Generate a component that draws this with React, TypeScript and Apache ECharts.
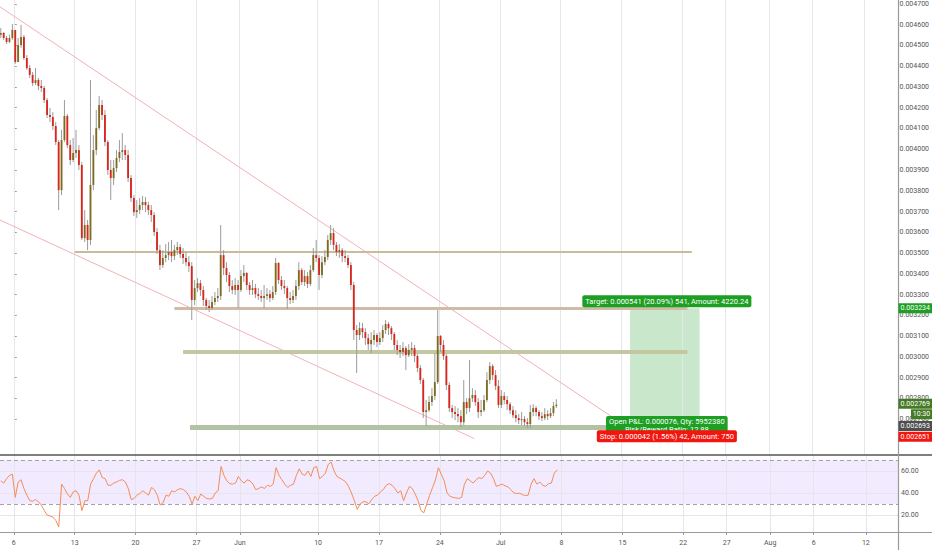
import { useEffect, useRef } from "react";
import * as echarts from "echarts";

// 8h candles, day 0 = May 6. prices are in millionths (4551 -> 0.004551)
const FIRST_DAY = -1.5;
const PER_DAY = 3;
const firstOpen = 4551;

const closes = [
  4560, 4536, 4517, 4536, 4575, 4420, 4502, 4541, 4440, 4391,
  4358, 4319, 4334, 4305, 4295, 4237, 4165, 4155, 4112, 4035,
  3803, 4044, 4160, 4020, 3948, 3982, 3996, 3924, 3572, 3635,
  3563, 3828, 3996, 4102, 4213, 4165, 4035, 3900, 3861, 3909,
  3958, 3987, 3996, 3972, 3861, 3765, 3697, 3707, 3731, 3746,
  3731, 3707, 3683, 3601, 3514, 3442, 3476, 3490, 3505, 3485,
  3514, 3529, 3495, 3476, 3456, 3437, 3274, 3331, 3355, 3322,
  3274, 3245, 3235, 3264, 3283, 3293, 3490, 3428, 3394, 3341,
  3322, 3346, 3322, 3389, 3404, 3346, 3322, 3331, 3302, 3293,
  3283, 3293, 3302, 3283, 3312, 3452, 3370, 3341, 3331, 3283,
  3274, 3293, 3341, 3418, 3360, 3389, 3351, 3418, 3490, 3476,
  3394, 3456, 3481, 3563, 3596, 3539, 3505, 3514, 3485, 3476,
  3442, 3346, 3129, 3105, 3138, 3119, 3090, 3061, 3081, 3105,
  3071, 3090, 3129, 3158, 3138, 3110, 3057, 3033, 3023, 3042,
  3008, 3033, 3042, 3004, 2946, 2888, 2734, 2743, 2782, 2811,
  2878, 3100, 3057, 3004, 2864, 2753, 2734, 2724, 2714, 2685,
  2782, 2753, 2801, 2816, 2782, 2734, 2743, 2792, 2888, 2955,
  2912, 2859, 2768, 2811, 2792, 2772, 2743, 2719, 2705, 2695,
  2700, 2685, 2676, 2734, 2753, 2734, 2714, 2705, 2724, 2714,
  2729, 2763, 2769,
];

const highs = [
  4584, 4565, 4546, 4551, 4603, 4575, 4536, 4599, 4551, 4454,
  4406, 4372, 4391, 4343, 4334, 4305, 4247, 4199, 4179, 4131,
  4044, 4093, 4237, 4170, 4044, 4054, 4093, 4020, 3938, 3707,
  3659, 4334, 4068, 4189, 4257, 4237, 4189, 4044, 3948, 3948,
  3996, 4044, 4078, 4020, 3996, 3876, 3779, 3755, 3765, 3775,
  3770, 3746, 3731, 3697, 3620, 3539, 3514, 3543, 3553, 3563,
  3539, 3553, 3543, 3524, 3505, 3485, 3456, 3370, 3379, 3370,
  3341, 3283, 3274, 3293, 3312, 3331, 3635, 3514, 3456, 3408,
  3370, 3379, 3370, 3418, 3442, 3408, 3360, 3370, 3351, 3331,
  3322, 3346, 3331, 3322, 3341, 3476, 3456, 3389, 3370, 3341,
  3312, 3322, 3370, 3456, 3428, 3418, 3408, 3442, 3524, 3563,
  3490, 3485, 3514, 3587, 3635, 3620, 3553, 3543, 3524, 3514,
  3490, 3456, 3360, 3153, 3167, 3163, 3138, 3110, 3119, 3129,
  3114, 3119, 3153, 3177, 3167, 3148, 3119, 3081, 3057, 3071,
  3052, 3061, 3071, 3057, 3013, 2960, 2898, 2792, 2811, 2849,
  3018, 3225, 3105, 3081, 3013, 2878, 2768, 2763, 2753, 2743,
  2888, 2801, 2984, 2849, 2840, 2801, 2792, 2816, 2926, 2975,
  2965, 2936, 2888, 2840, 2830, 2811, 2782, 2763, 2743, 2724,
  2734, 2714, 2705, 2768, 2772, 2763, 2743, 2734, 2753, 2743,
  2753, 2782, 2796,
];

const lows = [
  4536, 4527, 4507, 4512, 4527, 4411, 4420, 4488, 4430, 4382,
  4343, 4305, 4309, 4285, 4276, 4223, 4150, 4131, 4093, 4020,
  3707, 3779, 4035, 4006, 3924, 3938, 3958, 3900, 3563, 3553,
  3514, 3539, 3803, 3972, 4093, 4141, 4015, 3876, 3755, 3828,
  3890, 3938, 3948, 3948, 3842, 3746, 3678, 3669, 3688, 3707,
  3697, 3683, 3649, 3582, 3495, 3418, 3428, 3456, 3466, 3456,
  3466, 3490, 3476, 3447, 3437, 3408, 3177, 3249, 3312, 3293,
  3245, 3225, 3216, 3225, 3249, 3264, 3274, 3394, 3360, 3312,
  3302, 3298, 3235, 3312, 3360, 3322, 3298, 3298, 3283, 3274,
  3264, 3235, 3274, 3264, 3274, 3298, 3351, 3322, 3302, 3230,
  3254, 3259, 3274, 3322, 3346, 3341, 3331, 3341, 3408, 3456,
  3322, 3379, 3442, 3466, 3539, 3514, 3485, 3476, 3456, 3456,
  3428, 3322, 3081, 2922, 3081, 3090, 3057, 3033, 3018, 3057,
  3047, 3057, 3071, 3110, 3105, 3081, 3033, 3008, 2994, 3004,
  2936, 2999, 3004, 2975, 2926, 2869, 2705, 2666, 2734, 2763,
  2792, 2869, 3023, 2984, 2840, 2734, 2705, 2695, 2685, 2661,
  2671, 2724, 2734, 2782, 2763, 2705, 2714, 2734, 2782, 2869,
  2888, 2840, 2753, 2753, 2772, 2743, 2724, 2705, 2685, 2676,
  2671, 2666, 2657, 2657, 2714, 2714, 2695, 2690, 2695, 2695,
  2705, 2714, 2753,
];

const rsi = [
  51, 49, 53, 56, 57, 36, 50, 52, 44, 38,
  33, 32.5, 34, 32, 29, 24, 20, 19, 18, 15,
  9, 48, 44, 39, 36, 41, 42, 38, 24, 33,
  33, 48, 53, 58, 61, 54, 53, 47, 47, 49,
  50, 51.5, 52, 50, 44, 34, 35, 38, 39.5, 42,
  40, 38, 45, 43, 38, 29, 31, 38, 37, 42,
  41, 43, 44, 43, 41, 37, 30, 37, 33, 39,
  37, 35, 34.5, 35, 40, 42, 64, 56, 51, 48.5,
  48, 49, 55, 51, 49, 52, 51, 48, 43, 44,
  45.5, 44, 47, 46, 48, 63, 56, 52, 48, 45,
  47, 48, 56, 62, 57, 56, 60, 55, 63, 64,
  53, 55, 58, 66, 68, 60, 55, 53.5, 52, 50,
  46, 40, 33, 25, 30, 32, 32, 30, 34, 37,
  38, 41, 43, 47, 48.5, 47, 44, 40, 42, 33,
  40, 46, 44, 39, 33, 24, 22, 30, 38, 45,
  52, 63, 57, 51, 40, 37, 36, 35.5, 35, 36,
  48, 53, 51, 49, 52, 54, 53, 56, 60, 58,
  53, 46, 47, 48, 46.5, 45.5, 43, 40, 39.5, 39.7,
  38.5, 37.5, 38, 48, 53, 48, 50, 47, 46, 48.5,
  49, 58, 61,
];

const xTickDays = [0, 7, 14, 21, 26, 35, 42, 49, 56, 63, 70, 77, 82, 87, 92, 98];
const xTickLabels = ["6", "13", "20", "27", "Jun", "10", "17", "24", "Jul", "8", "15", "22", "27", "Aug", "6", "12"];
const priceTicks = [
  0.0027, 0.0028, 0.0029, 0.003, 0.0031, 0.0032, 0.0033, 0.0034, 0.0035, 0.0036, 0.0037,
  0.0038, 0.0039, 0.004, 0.0041, 0.0042, 0.0043, 0.0044, 0.0045, 0.0046, 0.0047,
];
const rsiTicks = [20, 40, 60];

// drawn levels: price, first day, last day
const levelPrices = [0.003507, 0.003236, 0.003024, 0.00266];
const levelStart = [7.0, 18.5, 19.5, 20.3];
const levelEnd = [78.1, 77.6, 77.6, 71];

// channel lines [day, price]
const channelTop = [[-1.59, 0.004686], [70, 0.002680]];
const channelBottom = [[-1.59, 0.003659], [53.06, 0.002606]];

// long position
const entryPrice = 0.002693;
const targetPrice = 0.003234;
const stopPrice = 0.002651;
const lastPrice = 0.002769;
const posStart = 71;
const posEnd = 79;

const FONT = "Roboto, 'DejaVu Sans', sans-serif";
const UP = "#7d6c20";
const DOWN = "#d8261d";
const GRID = "#e4e6eb";
const levelColors = ["#cbbb9b", "#d0bca6", "#c4c8a2", "#b2c3a4"];
const levelWidths = [2, 3, 4, 5];

export default function App() {
  const ref = useRef<HTMLDivElement>(null);

  useEffect(() => {
    if (!ref.current) return;
    const chart = echarts.init(ref.current, undefined, { renderer: "svg" });

    const candles = closes.map((c, i) => {
      const o = i === 0 ? firstOpen : closes[i - 1];
      const h = Math.max(highs[i], o, c);
      const l = Math.min(lows[i], o, c);
      return [FIRST_DAY + i / PER_DAY, o / 1e6, c / 1e6, l / 1e6, h / 1e6];
    });
    const rsiData = rsi.map((v, i) => [FIRST_DAY + i / PER_DAY, v]);

    const lineItem = (a: number[], b: number[], color: string, width: number) => [
      { coord: a, lineStyle: { color, width, type: "solid" } },
      { coord: b, lineStyle: { color, width, type: "solid" } },
    ];

    chart.setOption({
      animation: false,
      backgroundColor: "#ffffff",
      textStyle: { fontFamily: FONT },
      grid: [
        { left: 0, right: 34, top: 0, height: 455 },
        { left: 0, right: 34, top: 455, height: 77 },
      ],
      xAxis: [
        {
          type: "value", gridIndex: 0, min: -1.59, max: 101.7,
          axisLabel: { show: false }, axisLine: { show: false }, axisTick: { show: false }, splitLine: { show: false },
        },
        {
          type: "value", gridIndex: 1, min: -1.59, max: 101.7,
          axisLine: { show: false },
          axisTick: { show: true, customValues: xTickDays, length: 3, lineStyle: { color: "#999" } },
          axisLabel: {
            customValues: xTickDays, fontSize: 7, color: "#555", margin: 7, fontFamily: FONT,
            formatter: (v: number) => xTickLabels[xTickDays.indexOf(v)] ?? "",
          },
          splitLine: { show: false },
        },
      ],
      yAxis: [
        {
          type: "value", gridIndex: 0, position: "right", min: 0.002527, max: 0.004719,
          axisLine: { show: false },
          axisTick: { show: true, customValues: priceTicks, length: 3, lineStyle: { color: "#999" } },
          axisLabel: {
            customValues: priceTicks, fontSize: 7, color: "#555", margin: 3, fontFamily: FONT,
            formatter: (v: number) => v.toFixed(6),
          },
          splitLine: { show: false },
        },
        {
          type: "value", gridIndex: 1, position: "right", min: 4.5, max: 74.5,
          axisLine: { show: false },
          axisTick: { show: true, customValues: rsiTicks, length: 3, lineStyle: { color: "#999" } },
          axisLabel: {
            customValues: rsiTicks, fontSize: 7, color: "#555", margin: 3, fontFamily: FONT,
            formatter: (v: number) => v.toFixed(2),
          },
          splitLine: { show: false },
        },
      ],
      series: [
        {
          // grid, channel lines, levels, position box
          type: "line", xAxisIndex: 0, yAxisIndex: 0, data: [], z: 1,
          markArea: {
            silent: true, z: 1,
            data: [
              [{ coord: [posStart, entryPrice], itemStyle: { color: "rgba(76,175,80,0.3)" } }, { coord: [posEnd, targetPrice] }],
              [{ coord: [posStart, stopPrice], itemStyle: { color: "rgba(255,82,82,0.3)" } }, { coord: [posEnd, entryPrice] }],
            ],
          },
          markLine: {
            silent: true, z: 1, symbol: ["none", "none"], label: { show: false },
            data: [
              ...priceTicks.map((v) => ({ yAxis: v, lineStyle: { color: GRID, width: 1, type: "solid" } })),
              ...xTickDays.map((v) => ({ xAxis: v, lineStyle: { color: GRID, width: 1, type: "solid" } })),
              lineItem(channelTop[0], channelTop[1], "#f4b0b6", 1),
              lineItem(channelBottom[0], channelBottom[1], "#f4b0b6", 1),
              ...levelPrices.map((p, i) =>
                lineItem([levelStart[i], p], [levelEnd[i], p], levelColors[i], levelWidths[i])
              ),
            ],
          },
        },
        {
          type: "custom", xAxisIndex: 0, yAxisIndex: 0, z: 2, clip: true,
          data: candles,
          encode: { x: 0, y: [1, 2, 3, 4] },
          renderItem: (_params: any, api: any) => {
            const d = api.value(0);
            const o = api.value(1);
            const c = api.value(2);
            const [x, yO] = api.coord([d, o]);
            const yC = api.coord([d, c])[1];
            const yL = api.coord([d, api.value(3)])[1];
            const yH = api.coord([d, api.value(4)])[1];
            const w = api.size([1 / PER_DAY, 0])[0] * 0.64;
            return {
              type: "group",
              children: [
                { type: "line", shape: { x1: x, y1: yH, x2: x, y2: yL }, style: { stroke: "#9b9b9b", lineWidth: 1 } },
                {
                  type: "rect",
                  shape: { x: x - w / 2, y: Math.min(yO, yC), width: w, height: Math.max(Math.abs(yO - yC), 1) },
                  style: { fill: c >= o ? UP : DOWN },
                },
              ],
            };
          },
        },
        {
          type: "line", xAxisIndex: 1, yAxisIndex: 1, z: 3,
          data: rsiData, showSymbol: false, symbol: "none",
          lineStyle: { color: "#f48c58", width: 1 },
          markArea: {
            silent: true, z: 1,
            data: [[{ yAxis: 30, itemStyle: { color: "rgba(150,85,250,0.12)" } }, { yAxis: 70 }]],
          },
          markLine: {
            silent: true, z: 1, symbol: ["none", "none"], label: { show: false },
            data: [
              ...rsiTicks.map((v) => ({ yAxis: v, lineStyle: { color: GRID, width: 1, type: "solid" } })),
              ...xTickDays.map((v) => ({ xAxis: v, lineStyle: { color: GRID, width: 1, type: "solid" } })),
              { yAxis: 70, lineStyle: { color: "#a3a3a3", width: 1, type: [4, 3] } },
              { yAxis: 30, lineStyle: { color: "#a3a3a3", width: 1, type: [4, 3] } },
            ],
          },
        },
      ],
    });

    // annotations placed from prices
    const at = (d: number, p: number) => chart.convertToPixel({ gridIndex: 0 }, [d, p]) as number[];
    const mid = (posStart + posEnd) / 2;
    const [cx, yTarget] = at(mid, targetPrice);
    const yEntry = at(mid, entryPrice)[1];
    const yStop = at(mid, stopPrice)[1];
    const yLast = at(mid, lastPrice)[1];

    const label = (text: string, x: number, y: number, bg: string, extra: any = {}) => ({
      type: "text", x, y, z: 100,
      style: {
        text, fill: "#fff", fontSize: 7.5, fontFamily: FONT, align: "center", verticalAlign: "middle",
        backgroundColor: bg, padding: [2, 3, 2, 3], borderRadius: 2, ...extra,
      },
    });
    const badge = (text: string, y: number, bg: string, x = 898.5, w = 33.5) => [
      { type: "rect", z: 100, shape: { x, y: y - 5, width: w, height: 10 }, style: { fill: bg } },
      {
        type: "text", z: 101, x: x + w / 2, y,
        style: { text, fill: "#fff", fontSize: 7, fontFamily: FONT, align: "center", verticalAlign: "middle" },
      },
    ];

    chart.setOption({
      graphic: [
        { type: "line", z: 90, shape: { x1: 0, y1: 455, x2: 932, y2: 455 }, style: { stroke: "#555", lineWidth: 1.3 } },
        { type: "line", z: 90, shape: { x1: 0, y1: 532.5, x2: 932, y2: 532.5 }, style: { stroke: "#9a9a9a", lineWidth: 1.2 } },
        { type: "line", z: 90, shape: { x1: 898.5, y1: 0, x2: 898.5, y2: 550 }, style: { stroke: "#9a9a9a", lineWidth: 1.2 } },
        label("Target: 0.000541 (20.09%) 541, Amount: 4220.24", cx + 2, yTarget - 7, "#1c9f22"),
        label("Open P&L: 0.000076, Qty: 5952380\nRisk/Reward Ratio: 12.88", cx + 2, yEntry + 5, "#1c9f22", { lineHeight: 8.5, padding: [1, 3, 1, 3] }),
        label("Stop: 0.000042 (1.56%) 42, Amount: 750", cx + 2, yStop + 7, "#f2160f"),
        ...badge("0.003234", yTarget, "#1c9f22"),
        ...badge("0.002769", yLast - 1, "#457b27"),
        ...badge("10:30", yLast + 9.5, "#457b27", 911, 21),
        ...badge("0.002693", yEntry + 5.5, "#4e4e4e"),
        ...badge("0.002651", yStop + 7.5, "#f2160f"),
      ],
    });

    return () => chart.dispose();
  }, []);

  return (
    <div
      ref={ref}
      style={{ position: "fixed", left: 0, top: 0, width: 932, height: 550, background: "#fff" }}
    />
  );
}
